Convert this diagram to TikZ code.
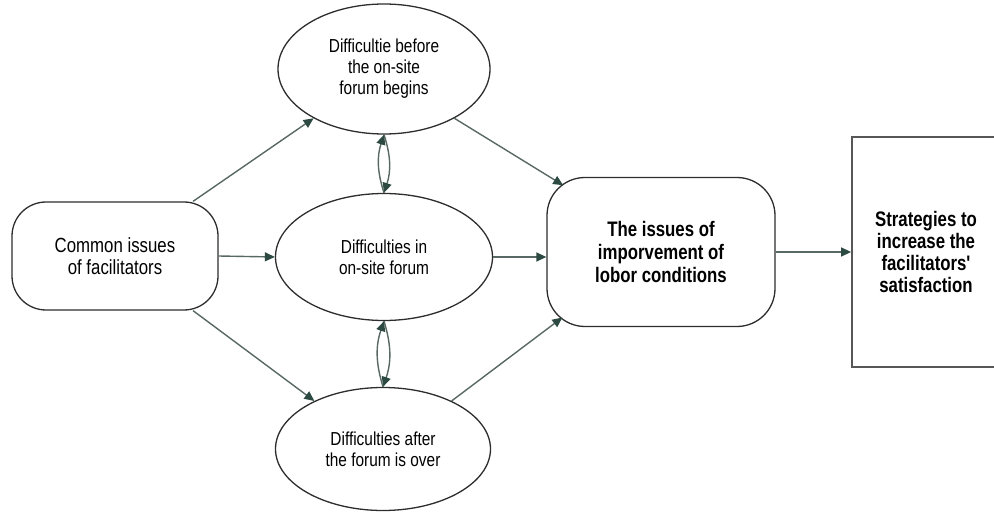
\documentclass[tikz,border=0pt]{standalone}
\usepackage{fontspec}
\setmainfont{Liberation Sans}
\newfontfamily\narrowfont[FakeStretch=0.82]{Liberation Sans}
\newfontfamily\condfont[FakeStretch=0.8]{Liberation Sans}
\usepackage{tikz}
\usetikzlibrary{shapes}
\usetikzlibrary{arrows.meta}
\definecolor{linkcol}{RGB}{88,104,100}
\definecolor{tipcol}{RGB}{44,74,66}
\definecolor{edgecol}{RGB}{45,45,45}
\tikzset{ issue_box/.style = {rectangle, rounded corners=34pt, draw=edgecol, line width=1.3pt, align=center, minimum width=206pt, minimum height=108pt, inner sep=0pt, font=\narrowfont\fontsize{20.5}{22}\selectfont} }
\tikzset{ phase_ell/.style = {ellipse, draw=edgecol, line width=1.3pt, align=center, inner sep=0pt, font=\narrowfont\fontsize{18.8}{21}\selectfont} }
\tikzset{ goal_box/.style = {rectangle, rounded corners=38pt, draw=edgecol, line width=1.3pt, align=center, minimum width=228pt, minimum height=149pt, inner sep=0pt, font=\condfont\bfseries\fontsize{21}{23}\selectfont} }
\tikzset{ out_box/.style = {rectangle, draw=edgecol!80, line width=1.8pt, align=center, minimum width=148pt, minimum height=230pt, inner sep=0pt, font=\condfont\bfseries\fontsize{21}{21.7}\selectfont} }
\tikzset{ link/.style = {draw=linkcol, line width=1.4pt, -{Triangle[length=10pt,width=9pt,fill=tipcol,color=tipcol]}} }

\begin{document}
\begin{tikzpicture}[x=1pt,y=-1pt]
\useasboundingbox (0,0) rectangle (994,513);
\clip (0,0) rectangle (994,513);
\node[issue_box] (common) at (115,256) {Common issues\\of facilitators};
\node[phase_ell, minimum width=212pt, minimum height=130pt] (before) at (384,69) {Difficultie before\\the on-site\\forum begins};
\node[phase_ell, minimum width=217pt, minimum height=127pt] (during) at (384,257) {Difficulties in\\on-site forum};
\node[phase_ell, minimum width=215pt, minimum height=123pt] (after) at (383,449) {Difficulties after\\the forum is over};
\node[goal_box] (labor) at (661,252) {The issues of\\imporvement of\\lobor conditions};
\node[out_box] (strat) at (926,252) {Strategies to\\increase the\\facilitators'\\satisfaction};
\draw[link] (common.35) -- (before.215);
\draw[link] (common.east) -- (during.west);
\draw[link] (common.-35) -- (after.145);
\draw[link, shorten >=-16pt] (before.-35) -- (labor.146);
\draw[link] (during.east) -- (during.east -| labor.west);
\draw[link, shorten >=-16pt] (after.35) -- (labor.214);
\draw[link] (labor.east) -- (labor.east -| strat.west);
\draw[link] (before.south) to[bend left=18] (during.north);
\draw[link] (during.north) to[bend left=18] (before.south);
\draw[link] (during.south) to[bend left=18] (after.north);
\draw[link] (after.north) to[bend left=18] (during.south);
\end{tikzpicture}
\end{document}
